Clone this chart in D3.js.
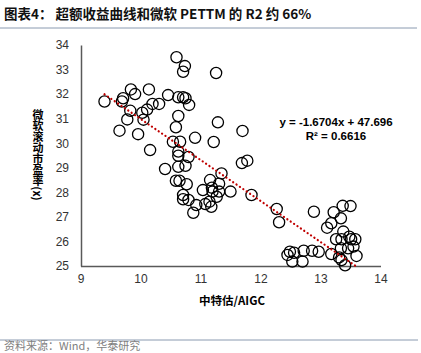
<!DOCTYPE html>
<html>
<head>
<meta charset="utf-8">
<script src="https://cdn.jsdelivr.net/npm/d3@7"></script>
<style>
body { margin: 0; background: #fff; }
svg { display: block; }
</style>
</head>
<body>
<svg id="chart"></svg>
<script>
// 中特估/AIGC vs 微软滚动市盈率
var xVals = [9.40, 9.65, 9.71, 9.69, 9.84, 9.91, 9.83, 9.78, 10.03, 10.05,
  9.96, 10.11, 10.14, 10.20, 10.31, 10.16, 10.46, 10.60, 10.74, 10.71,
  10.63, 10.71, 10.75, 10.81, 11.26, 10.63, 10.59, 11.29, 11.70, 10.91,
  11.22, 10.54, 10.66, 10.63, 10.63, 10.80, 10.41, 10.63, 10.75, 11.35,
  11.69, 11.78, 10.59, 10.65, 10.77, 11.16, 11.31, 11.04, 11.19, 11.20,
  11.31, 11.50, 10.71, 10.71, 10.80, 11.27, 10.93, 11.08, 11.15, 11.18,
  10.88, 11.85, 12.27, 12.31, 12.89, 13.37, 13.50, 13.22, 13.34, 13.18,
  13.11, 13.38, 13.48, 13.58, 13.51, 13.26, 13.35, 13.55, 13.34, 13.46,
  13.60, 13.18, 13.31, 13.35, 13.41, 12.45, 12.49, 12.56, 12.72, 12.86,
  12.97, 12.53, 12.70];
var yVals = [31.70, 30.51, 31.83, 31.70, 32.19, 32.00, 31.32, 30.97, 31.24, 30.96,
  30.37, 31.37, 32.19, 31.60, 31.60, 29.72, 31.96, 33.50, 33.14, 32.91,
  31.87, 31.87, 31.83, 31.56, 32.86, 31.11, 30.65, 30.85, 30.50, 30.22,
  30.05, 30.06, 30.06, 29.66, 29.49, 29.44, 28.95, 29.04, 29.08, 28.77,
  29.19, 29.29, 28.47, 28.47, 28.33, 28.50, 28.35, 28.09, 28.19, 28.03,
  28.03, 28.03, 27.89, 27.72, 27.69, 27.82, 27.48, 27.52, 27.62, 27.41,
  27.17, 27.89, 27.32, 26.78, 27.21, 27.45, 27.44, 27.19, 26.94, 26.74,
  26.56, 26.40, 26.19, 26.09, 26.09, 26.09, 26.09, 25.79, 25.72, 25.72,
  25.41, 25.49, 25.35, 25.24, 25.03, 25.45, 25.58, 25.54, 25.62, 25.62,
  25.58, 25.18, 25.18];
var xTicks = [9, 10, 11, 12, 13, 14];
var yTicks = [25, 26, 27, 28, 29, 30, 31, 32, 33, 34];
var slope = -1.6704, intercept = 47.696, r2 = 0.6616;

var W = 421, H = 353;
var svg = d3.select('#chart').attr('width', W).attr('height', H);
var cjk = '"Noto Sans CJK SC", "Liberation Sans", sans-serif';
var latin = '"Liberation Sans", Arial, sans-serif';

// title + rule
svg.append('text').attr('x', 4).attr('y', 19)
  .attr('font-family', cjk).attr('font-weight', 'bold').attr('font-size', 13.5)
  .attr('fill', '#111').text('图表4：  超额收益曲线和微软 PETTM 的 R2 约 66%');
svg.append('line').attr('x1', 0).attr('x2', 417).attr('y1', 28).attr('y2', 28)
  .attr('stroke', '#8a9ab0').attr('stroke-width', 1);

var x = d3.scaleLinear().domain([9, 14]).range([80.5, 380.5]);
var y = d3.scaleLinear().domain([25, 34]).range([266, 45]);

// axes
var xAxis = svg.append('g').attr('transform', 'translate(0,266)')
  .call(d3.axisBottom(x).tickValues(xTicks).tickFormat(d3.format('d')).tickSize(0).tickPadding(8));
var yAxis = svg.append('g').attr('transform', 'translate(81,0)')
  .call(d3.axisLeft(y).tickValues(yTicks).tickFormat(d3.format('d')).tickSize(0).tickPadding(12));
[xAxis, yAxis].forEach(function(g) {
  g.select('.domain').attr('stroke', '#595959').attr('stroke-width', 1.5);
  g.selectAll('text').attr('font-family', latin).attr('font-size', 12).attr('fill', '#333');
});

// points
svg.append('g').selectAll('circle').data(xVals).enter().append('circle')
  .attr('cx', function(d) { return x(d); })
  .attr('cy', function(d, i) { return y(yVals[i]); })
  .attr('r', 5.6)
  .attr('fill', 'none').attr('stroke', '#000').attr('stroke-width', 1.3);

// linear trendline
var xr = d3.extent(xVals);
svg.append('line')
  .attr('x1', x(xr[0])).attr('y1', y(slope * xr[0] + intercept))
  .attr('x2', x(xr[1])).attr('y2', y(slope * xr[1] + intercept))
  .attr('stroke', '#c00000').attr('stroke-width', 2.2)
  .attr('stroke-dasharray', '0.1,4').attr('stroke-linecap', 'round');

// equation
svg.append('text').attr('x', 336).attr('y', 126).attr('text-anchor', 'middle')
  .attr('font-family', latin).attr('font-weight', 'bold').attr('font-size', 11.5)
  .text('y = ' + slope + 'x + ' + intercept);
svg.append('text').attr('x', 336).attr('y', 140).attr('text-anchor', 'middle')
  .attr('font-family', latin).attr('font-weight', 'bold').attr('font-size', 11.5)
  .text('R² = ' + r2);

// axis titles
svg.append('text').attr('x', 232).attr('y', 305).attr('text-anchor', 'middle')
  .attr('font-family', cjk).attr('font-weight', 'bold').attr('font-size', 11.5)
  .text('中特估/AIGC');
svg.append('text').attr('x', 38).attr('y', 155)
  .attr('text-anchor', 'middle')
  .style('writing-mode', 'vertical-rl')
  .attr('font-family', cjk).attr('font-weight', 'bold').attr('font-size', 11)
  .text('微软滚动市盈率(x)');

// source
svg.append('line').attr('x1', 0).attr('x2', 418).attr('y1', 340).attr('y2', 340)
  .attr('stroke', '#8a9ab0').attr('stroke-width', 1);
svg.append('text').attr('x', 4).attr('y', 350)
  .attr('font-family', cjk).attr('font-size', 11).attr('fill', '#808080')
  .text('资料来源：Wind，华泰研究');
</script>
</body>
</html>
